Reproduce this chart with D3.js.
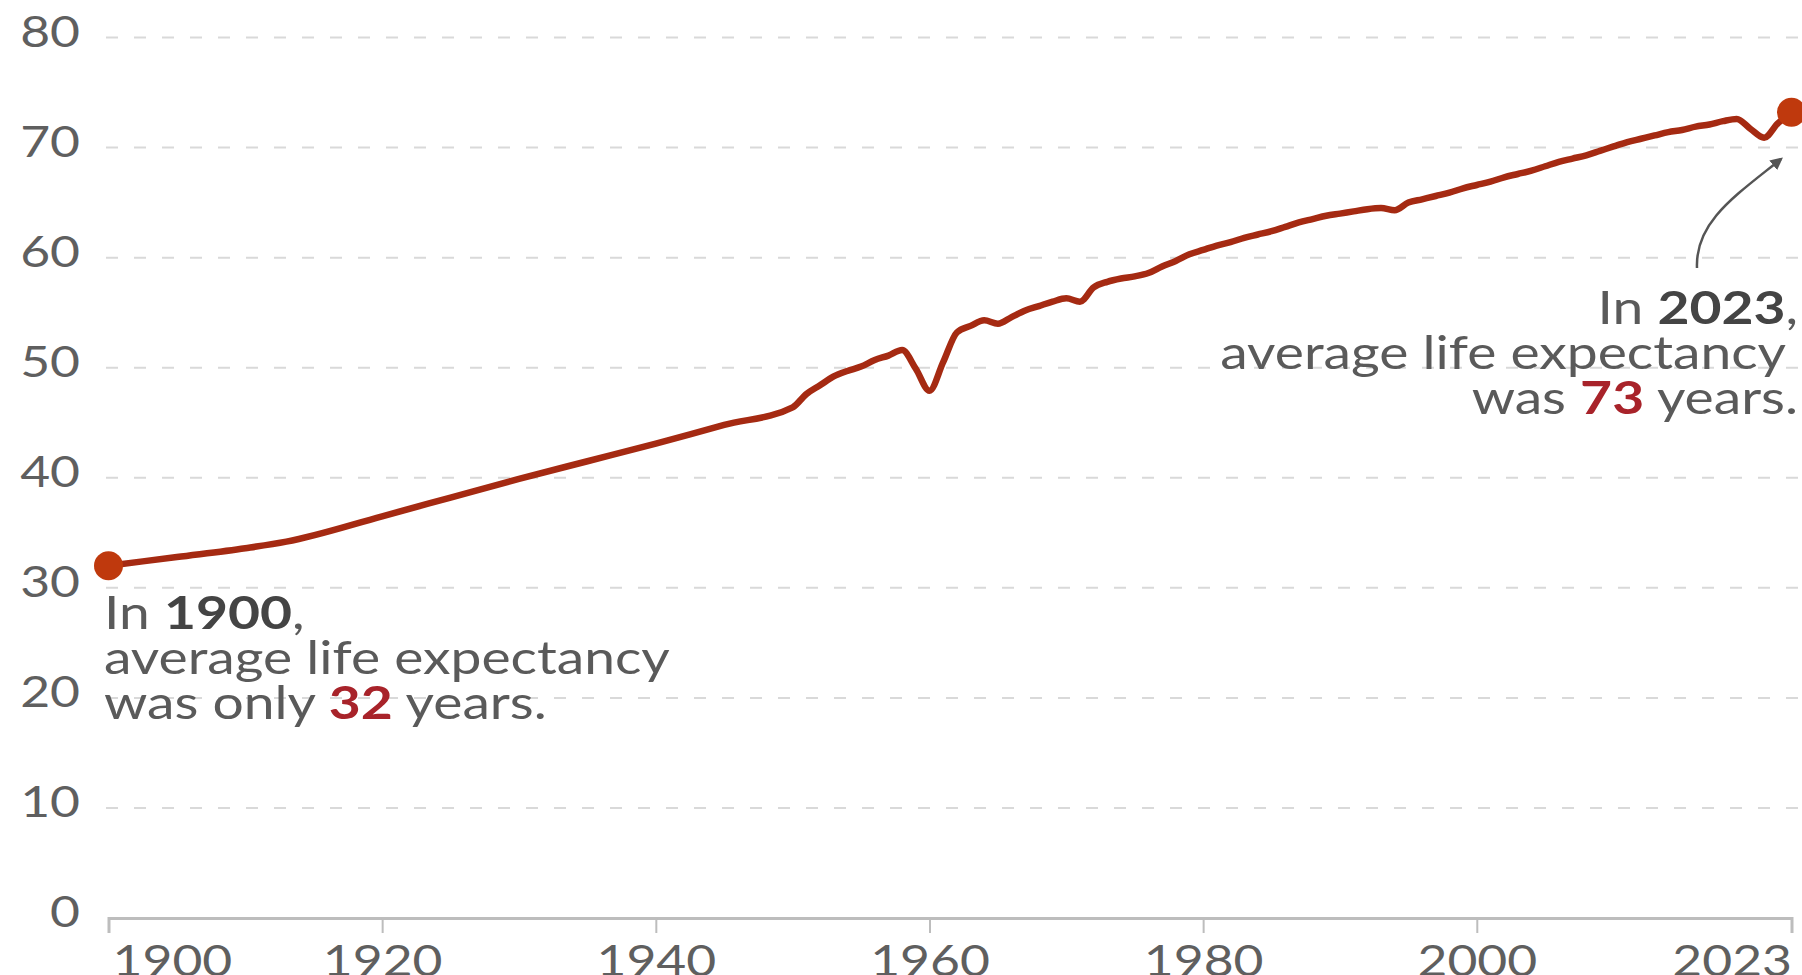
<!DOCTYPE html>
<html>
<head>
<meta charset="utf-8">
<script src="https://cdn.jsdelivr.net/npm/d3@7"></script>
<style>
  html, body { margin: 0; padding: 0; background: #ffffff; }
  svg { display: block; }
  text { font-family: Lato, "Open Sans", sans-serif; }
</style>
</head>
<body>
<svg id="chart" width="1802" height="975"></svg>
<script>
// ---- Data ----
const years = [1900, 1905, 1910, 1913, 1920, 1925, 1930, 1935, 1940, 1945, 1950,
  1951, 1952, 1953, 1954, 1955, 1956, 1957, 1958, 1959, 1960,
  1961, 1962, 1963, 1964, 1965, 1966, 1967, 1968, 1969, 1970,
  1971, 1972, 1973, 1974, 1975, 1976, 1977, 1978, 1979, 1980,
  1981, 1982, 1983, 1984, 1985, 1986, 1987, 1988, 1989, 1990,
  1991, 1992, 1993, 1994, 1995, 1996, 1997, 1998, 1999, 2000,
  2001, 2002, 2003, 2004, 2005, 2006, 2007, 2008, 2009, 2010,
  2011, 2012, 2013, 2014, 2015, 2016, 2017, 2018, 2019, 2020,
  2021, 2022, 2023];
const lifeExpectancy = [32.0, 32.8, 33.6, 34.2, 36.5, 38.2, 39.9, 41.5, 43.1, 44.8, 46.4,
  47.6, 48.4, 49.2, 49.7, 50.1, 50.7, 51.1, 51.6, 49.9, 47.9,
  50.5, 53.2, 53.8, 54.3, 54.0, 54.6, 55.2, 55.6, 56.0, 56.3,
  56.0, 57.3, 57.8, 58.1, 58.3, 58.6, 59.2, 59.7, 60.3, 60.7,
  61.1, 61.4, 61.8, 62.1, 62.4, 62.8, 63.2, 63.5, 63.8, 64.0,
  64.2, 64.4, 64.5, 64.3, 65.0, 65.3, 65.6, 65.9, 66.3, 66.6,
  66.9, 67.3, 67.6, 67.9, 68.3, 68.7, 69.0, 69.3, 69.7, 70.1,
  70.5, 70.8, 71.1, 71.4, 71.6, 71.9, 72.1, 72.4, 72.6, 71.7,
  70.9, 72.2, 73.2];
const yTicks = [0, 10, 20, 30, 40, 50, 60, 70, 80];
const xTicks = [1900, 1920, 1940, 1960, 1980, 2000, 2023];
const highlightYears = [1900, 2023];
const startNote = ["In ", "1900", ",", "average life expectancy", "was only ", "32", " years."];
const endNote = ["In ", "2023", ",", "average life expectancy", "was ", "73", " years."];

// ---- Styling ----
const lineColor = "#a52a12";
const dotColor = "#bf390d";
const textColor = "#5a5a5a";
const boldColor = "#444444";
const numColor = "#a8232a";
const stretch = 1.2;   // the reference lettering is horizontally wide

const svg = d3.select("#chart");
const x = d3.scaleLinear().domain([1900, 2023]).range([108.5, 1791.5]);
const y = d3.scaleLinear().domain([0, 80]).range([918, 37.5]);

// Gridlines
svg.append("g").selectAll("line")
  .data(yTicks.filter(d => d > 0))
  .join("line")
  .attr("x1", 106).attr("x2", 1802)
  .attr("y1", d => y(d)).attr("y2", d => y(d))
  .attr("stroke", "#d9d9d9")
  .attr("stroke-width", 2)
  .attr("stroke-dasharray", "12,16");

// Y labels
svg.append("g").selectAll("text")
  .data(yTicks)
  .join("text")
  .attr("transform", d => `translate(80,${y(d) - 6}) scale(${stretch},1)`)
  .attr("dy", "0.35em")
  .attr("text-anchor", "end")
  .attr("font-size", 43)
  .attr("fill", "#5f5f5f")
  .text(d => d);

// X axis
const xAxis = d3.axisBottom(x)
  .tickValues(xTicks)
  .tickFormat(d3.format("d"))
  .tickSize(15)
  .tickPadding(12);
const gx = svg.append("g").attr("transform", `translate(0,${y(0)})`).call(xAxis);
gx.select(".domain").attr("stroke", "#bdbdbd").attr("stroke-width", 3);
gx.selectAll(".tick line").attr("stroke", "#bdbdbd").attr("stroke-width", 2);
gx.selectAll(".tick text")
  .attr("font-family", "Lato, sans-serif")
  .attr("font-size", 43)
  .attr("fill", "#5f5f5f")
  .attr("transform", `scale(${stretch},1)`)
  .attr("text-anchor", d => d === 1900 ? "start" : (d === 2023 ? "end" : "middle"))
  .attr("dx", d => d === 1900 ? 3 : 0);

// Line
const line = d3.line()
  .x((d, i) => x(years[i]))
  .y(d => y(d))
  .curve(d3.curveMonotoneX);
svg.append("path")
  .datum(lifeExpectancy)
  .attr("d", line)
  .attr("fill", "none")
  .attr("stroke", lineColor)
  .attr("stroke-width", 6.5)
  .attr("stroke-linejoin", "round")
  .attr("stroke-linecap", "round");

// Dots
svg.append("g").selectAll("circle")
  .data(highlightYears)
  .join("circle")
  .attr("cx", d => x(d))
  .attr("cy", d => y(lifeExpectancy[years.indexOf(d)]))
  .attr("r", 14.5)
  .attr("fill", dotColor);

// Annotations
function note(parts, xPos, y0, anchor, lineGap, midX) {
  const g = svg.append("g").attr("font-size", 46).attr("fill", textColor);
  const t1 = g.append("text")
    .attr("transform", `translate(${xPos},${y0}) scale(${stretch},1)`)
    .attr("text-anchor", anchor);
  t1.append("tspan").text(parts[0]);
  t1.append("tspan").attr("font-weight", 700).attr("fill", boldColor).text(parts[1]);
  t1.append("tspan").text(parts[2]);
  g.append("text")
    .attr("transform", `translate(${midX},${y0 + lineGap}) scale(${stretch},1)`)
    .attr("text-anchor", anchor).text(parts[3]);
  const t3 = g.append("text")
    .attr("transform", `translate(${xPos},${y0 + 2 * lineGap}) scale(${stretch},1)`)
    .attr("text-anchor", anchor);
  t3.append("tspan").text(parts[4]);
  t3.append("tspan").attr("font-weight", 700).attr("fill", numColor).text(parts[5]);
  t3.append("tspan").text(parts[6]);
}
note(startNote, 104, 629, "start", 45, 104);
note(endNote, 1798, 324, "end", 45, 1786);

// Arrow
svg.append("defs").append("marker")
  .attr("id", "arrowhead")
  .attr("viewBox", "0 0 10 10")
  .attr("refX", 8).attr("refY", 5)
  .attr("markerWidth", 5).attr("markerHeight", 5)
  .attr("orient", "auto")
  .append("path")
  .attr("d", "M0,0 L10,5 L0,10 Z")
  .attr("fill", "#555");
svg.append("path")
  .attr("d", "M1697,268 C1695,222 1735,196 1781,159")
  .attr("fill", "none")
  .attr("stroke", "#555")
  .attr("stroke-width", 2.5)
  .attr("marker-end", "url(#arrowhead)");
</script>
</body>
</html>
